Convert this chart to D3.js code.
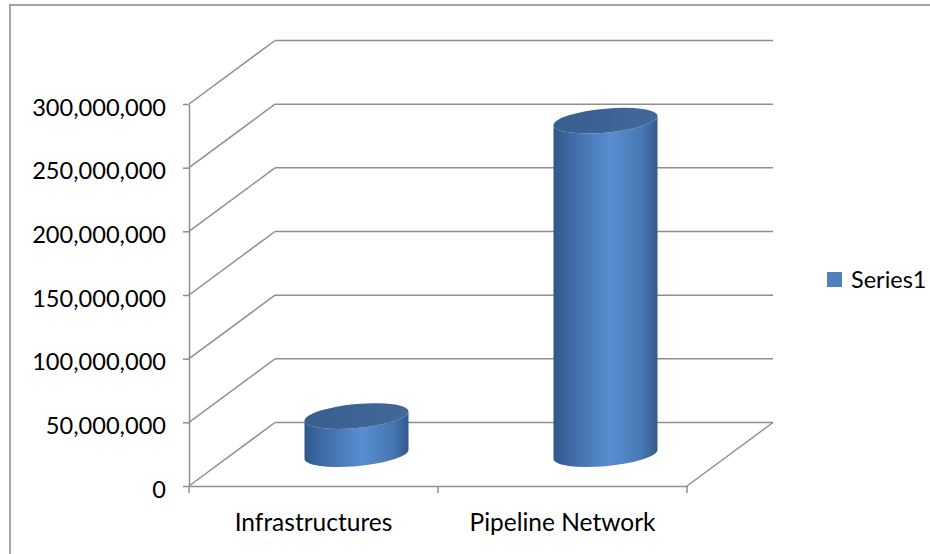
<!DOCTYPE html>
<html>
<head>
	<meta charset="utf-8">
	<script src="https://cdnjs.cloudflare.com/ajax/libs/d3/7.8.5/d3.min.js"></script>
	<style>
		body { margin: 0; background: #fff; }
	</style>
</head>
<body>
	<svg width="930" height="554"></svg>
	<script>
		// chart data
		const categories = ["Infrastructures", "Pipeline Network"];
		const values = [30000000, 262000000];
		const seriesName = "Series1";
		const yTicks = [0, 50000000, 100000000, 150000000, 200000000, 250000000, 300000000];

		let svg = d3.select("svg");

		// front plane of the 3d box and the offset to the back wall
		const front = {left: 189, right: 687, top: 104, bottom: 486},
			depth = {dx: 86, dy: -63.5},
			gridColor = "#8f8f8f",
			font = "Lato, sans-serif";

		let x = d3.scaleBand().domain(categories).range([front.left, front.right]),
			y = d3.scaleLinear().domain([0, 300000000]).range([front.bottom, front.top]);

		// outer chart frame (only top and left are in view)
		svg.append("path")
			.attr("d", "M10,554V5H930")
			.attr("fill", "none")
			.attr("stroke", "#a3a3a3")
			.attr("stroke-width", 2);

		let grid = svg.append("g")
			.attr("stroke", gridColor)
			.attr("stroke-width", 1.5)
			.attr("fill", "none");

		// back wall gridlines
		grid.selectAll(".back")
			.data(yTicks)
			.enter()
			.append("line")
			.attr("x1", front.left + depth.dx)
			.attr("x2", front.right + depth.dx)
			.attr("y1", d => y(d) + depth.dy)
			.attr("y2", d => y(d) + depth.dy);

		// side wall diagonals
		grid.selectAll(".side")
			.data(yTicks)
			.enter()
			.append("line")
			.attr("x1", front.left)
			.attr("y1", d => y(d))
			.attr("x2", front.left + depth.dx)
			.attr("y2", d => y(d) + depth.dy);

		// right edge of the floor
		grid.append("line")
			.attr("x1", front.right)
			.attr("y1", y(0))
			.attr("x2", front.right + depth.dx)
			.attr("y2", y(0) + depth.dy);

		// gradients for the cylinders
		let defs = svg.append("defs");
		let sideGrad = defs.append("linearGradient").attr("id", "side");
		[["0%", "#2f5789"], ["12%", "#3b66a0"], ["55%", "#5a8ed1"], ["85%", "#4777b4"], ["100%", "#35598b"]]
			.forEach(s => sideGrad.append("stop").attr("offset", s[0]).attr("stop-color", s[1]));
		let topGrad = defs.append("linearGradient").attr("id", "top");
		[["0%", "#375e8f"], ["100%", "#43699b"]]
			.forEach(s => topGrad.append("stop").attr("offset", s[0]).attr("stop-color", s[1]));

		// cylinders sit half way into the box
		const rx = 52, ry = 12, skew = -5;
		let bars = svg.append("g")
			.selectAll("g")
			.data(categories.map((c, i) => ({cat: c, value: values[i]})))
			.enter()
			.append("g")
			.attr("transform", d => "translate(" + (x(d.cat) + x.bandwidth() / 2 + depth.dx / 2) + ",0) skewY(" + skew + ")");

		bars.append("path")
			.attr("fill", "url(#side)")
			.attr("d", d => {
				let b = y(0) + depth.dy / 2, t = y(d.value) + depth.dy / 2;
				return "M" + (-rx) + "," + t + "L" + (-rx) + "," + b +
					"A" + rx + "," + ry + " 0 0 0 " + rx + "," + b +
					"L" + rx + "," + t +
					"A" + rx + "," + ry + " 0 0 1 " + (-rx) + "," + t + "Z";
			});

		bars.append("ellipse")
			.attr("cx", 0)
			.attr("cy", d => y(d.value) + depth.dy / 2)
			.attr("rx", rx)
			.attr("ry", ry)
			.attr("fill", "url(#top)");

		// y axis
		let yAxis = svg.append("g")
			.attr("transform", "translate(" + front.left + ",0)")
			.call(d3.axisLeft(y).tickValues(yTicks).tickFormat(d3.format(",")).tickSize(6).tickPadding(17).tickSizeOuter(0));
		yAxis.selectAll("path, line").attr("stroke", gridColor).attr("stroke-width", 1.5);
		yAxis.selectAll("text")
			.attr("dy", "0.47em")
			.attr("fill", "#000")
			.style("font", "23.6px " + font);

		// x axis, labels centred under the bands, ticks on the band edges
		let xAxis = svg.append("g")
			.attr("transform", "translate(0," + front.bottom + ")")
			.call(d3.axisBottom(x).tickSize(0).tickPadding(28).tickSizeOuter(0));
		xAxis.select(".domain").attr("stroke", gridColor).attr("stroke-width", 1.5);
		xAxis.selectAll("text")
			.attr("fill", "#000")
			.style("font", "24.5px " + font);
		xAxis.selectAll(".edge")
			.data(categories.map(c => x(c)).concat([front.right]))
			.enter()
			.append("line")
			.attr("x1", d => d)
			.attr("x2", d => d)
			.attr("y1", 0)
			.attr("y2", 7)
			.attr("stroke", gridColor)
			.attr("stroke-width", 1.5);

		// legend
		let legend = svg.append("g").attr("transform", "translate(827,272)");
		legend.append("rect")
			.attr("width", 15)
			.attr("height", 15)
			.attr("fill", "#4f81bd");
		legend.append("text")
			.attr("x", 24)
			.attr("y", 16)
			.style("font", "23.5px " + font)
			.text(seriesName);
	</script>
</body>
</html>
